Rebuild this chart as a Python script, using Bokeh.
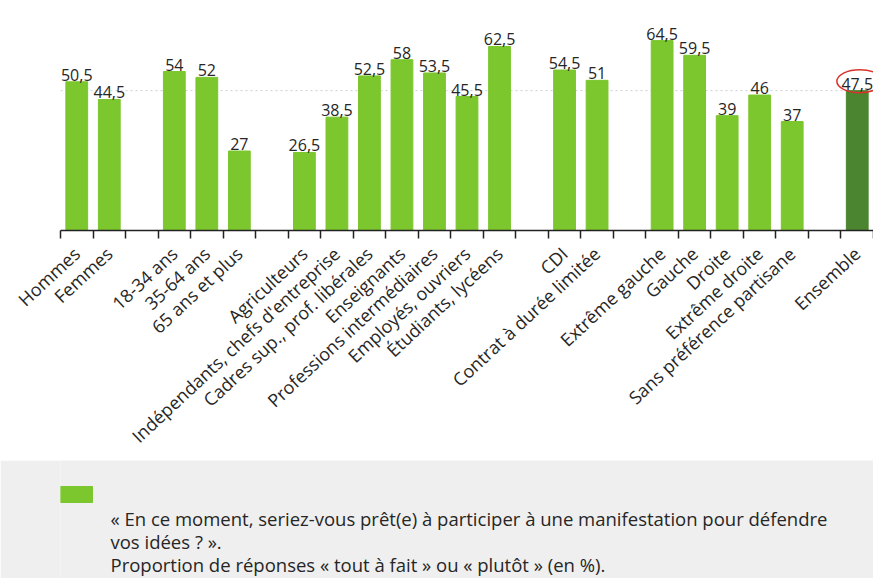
from bokeh.plotting import figure
from bokeh.models import FixedTicker, Range1d, Span, ColumnDataSource
from bokeh.layouts import column
from bokeh.embed import file_html
from bokeh.resources import INLINE
from bokeh.core.properties import value

# ---- data ----
categories = ["Hommes", "Femmes",
              "18-34 ans", "35-64 ans", "65 ans et plus",
              "Agriculteurs", "Indépendants, chefs d'entreprise", "Cadres sup., prof. libérales",
              "Enseignants", "Professions intermédiaires", "Employés, ouvriers", "Étudiants, lycéens",
              "CDI", "Contrat à durée limitée",
              "Extrême gauche", "Gauche", "Droite", "Extrême droite", "Sans préférence partisane",
              "Ensemble"]
values = [50.5, 44.5,
          54, 52, 27,
          26.5, 38.5, 52.5, 58, 53.5, 45.5, 62.5,
          54.5, 51,
          64.5, 59.5, 39, 46, 37,
          47.5]
group_sizes = [2, 3, 7, 2, 5, 1]
legend_lines = ["« En ce moment, seriez-vous prêt(e) à participer à une manifestation pour défendre",
                "vos idées ? ».",
                "Proportion de réponses « tout à fait » ou « plutôt » (en %)."]

LIGHT = "#7cc62e"
DARK = "#4b8530"
TXT = "#262626"
FONT = "Open Sans"

# slot positions (one empty slot between groups)
slots = []
s = 0
for g in group_sizes:
    for _ in range(g):
        slots.append(s)
        s += 1
    s += 1
n_slots = s - 1
xs = [sl + 0.5 for sl in slots]
colors = [LIGHT] * (len(values) - 1) + [DARK]
labels = [f"{v:g}".replace(".", ",") for v in values]

src = ColumnDataSource(dict(x=xs, top=values, color=colors, label=labels))

LB, FW = 60, 813
p = figure(frame_width=FW, frame_height=212, output_backend="svg", toolbar_location=None,
           x_range=Range1d(0, n_slots), y_range=Range1d(0, 72),
           min_border_left=LB, min_border_right=0, min_border_top=18, min_border_bottom=230)
p.outline_line_color = None
p.grid.visible = False
p.yaxis.visible = False
p.background_fill_color = "white"

p.vbar(x="x", top="top", width=0.67, bottom=0, color="color", source=src)
p.text(x="x", y="top", text="label", source=src, text_align="center", text_baseline="bottom",
       y_offset=-1, text_font=value(FONT), text_font_size="16px", text_color=TXT)

ref = Span(location=values[-1], dimension="width", line_color="#cfcfcf", line_dash="2 3", line_width=1,
           level="underlay")
p.add_layout(ref)

p.ellipse(x=[xs[-1] + 0.08], y=[values[-1] + 3.2], width=46, height=23,
          width_units="screen", height_units="screen", fill_color=None, line_color="#d9322b", line_width=1.5)

ax = p.xaxis[0]
ax.ticker = FixedTicker(ticks=xs, minor_ticks=list(range(0, n_slots + 1)))
ax.major_label_overrides = {x: c for x, c in zip(xs, categories)}
ax.major_label_orientation = 0.75
ax.major_label_text_font = FONT
ax.major_label_text_font_size = "18px"
ax.major_label_text_color = TXT
ax.major_tick_line_color = None
ax.minor_tick_line_color = "#222222"
ax.minor_tick_out = 8
ax.minor_tick_in = 0
ax.minor_tick_line_width = 1.5
ax.axis_line_color = "#222222"
ax.axis_line_width = 1.5
ax.major_label_standoff = 12

# ---- legend panel (frame aligned with the chart frame; data x = pixel x) ----
H2 = 118
q = figure(frame_width=FW, frame_height=H2, output_backend="svg", toolbar_location=None,
           x_range=Range1d(LB, LB + FW), y_range=Range1d(H2, 0),
           min_border_left=LB, min_border_right=0, min_border_top=0, min_border_bottom=0)
q.outline_line_color = None
q.grid.visible = False
q.axis.visible = False
q.background_fill_color = "#efefef"
q.border_fill_color = "#efefef"
q.quad(left=[60], right=[92], top=[26], bottom=[42], color=LIGHT)
q.text(x=[110, 110, 110], y=[58, 81, 104], text=legend_lines, text_baseline="middle",
       text_font=value(FONT), text_font_size="18.5px", text_color=TXT)

layout = column(p, q, spacing=0)
open("out.html", "w").write(file_html(layout, INLINE))
